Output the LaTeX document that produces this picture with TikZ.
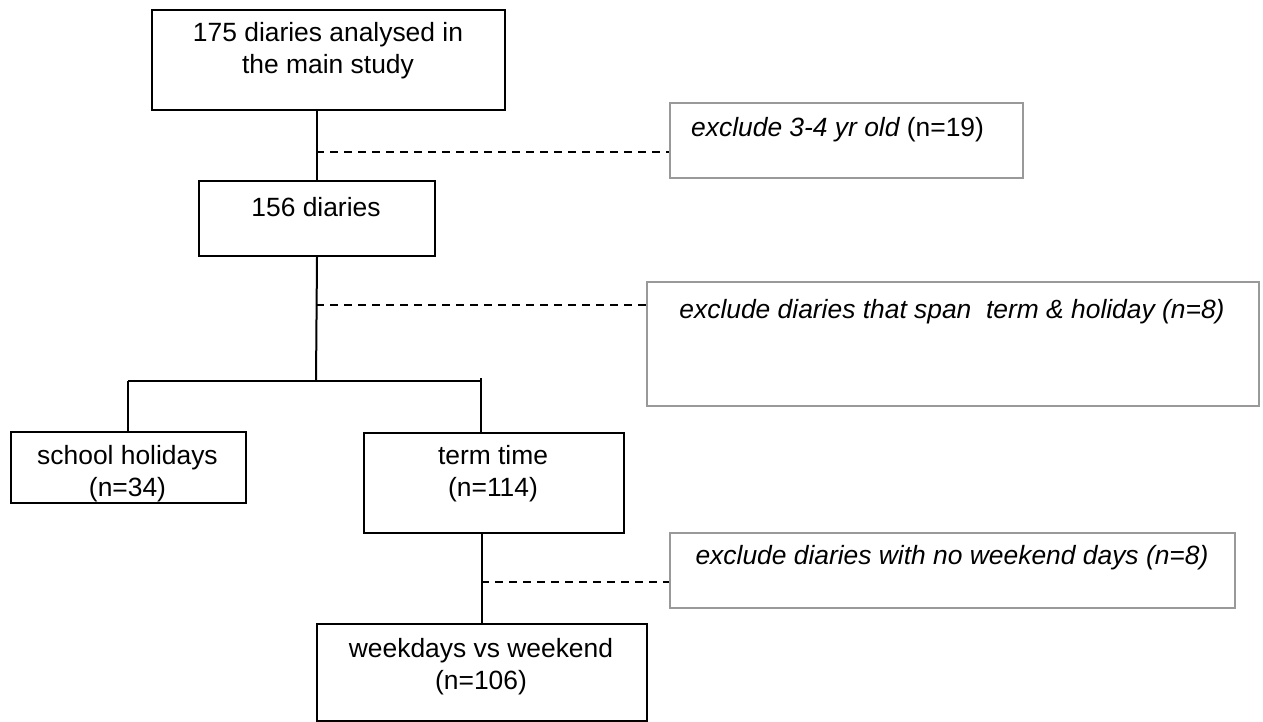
\documentclass[tikz,border=0pt]{standalone}
\usepackage{fontspec}
\setmainfont{Liberation Sans}
\begin{document}
\begin{tikzpicture}[x=1pt,y=-1pt,
  box/.style={draw=black,line width=2pt,anchor=north west,inner sep=0pt},
  gbox/.style={draw=black!40,line width=2pt,anchor=north west,inner sep=0pt},
  conn/.style={line width=2pt,black},
  dashline/.style={line width=1.6pt,black,dash pattern=on 8pt off 6pt},
  txt/.style={font=\fontsize{26.4}{32}\selectfont,align=center,inner sep=0pt}]
\useasboundingbox (0,0) rectangle (1263,722);
% boxes
\node[box,minimum width=353pt,minimum height=100pt] (b1) at (151,9) {};
\node[box,minimum width=236pt,minimum height=75pt] (b2) at (198,180) {};
\node[gbox,minimum width=353pt,minimum height=75pt] (e1) at (669,102) {};
\node[gbox,minimum width=612pt,minimum height=124pt] (e2) at (646,281) {};
\node[box,minimum width=235pt,minimum height=71pt] (sh) at (10,431) {};
\node[box,minimum width=260pt,minimum height=100pt] (tt) at (363,432) {};
\node[gbox,minimum width=565pt,minimum height=75pt] (e3) at (669,532) {};
\node[box,minimum width=330pt,minimum height=97pt] (wk) at (316,623) {};
% texts
\node[txt] (t1) at (328,51) {175 diaries analysed in\\the main study};
\node[txt] (t2) at (316,207) {156 diaries};
\node[txt,anchor=west] (te1) at (691,130) {\itshape exclude 3-4 yr old\upshape{} (n=19)};
\node[txt] (te2) at (952,312) {\itshape exclude diaries that span\ \ term \& holiday (n=8)};
\node[txt] (tsh) at (127.5,474) {school holidays\\(n=34)};
\node[txt] (ttt) at (493,474) {term time\\(n=114)};
\node[txt] (te3) at (952,558) {\itshape exclude diaries with no weekend days (n=8)};
\node[txt] (twk) at (481,667) {weekdays vs weekend\\(n=106)};
% connectors
\draw[conn] (b2.north |- b1.south) -- (b2.north);
\coordinate (br) at (316,381);
\coordinate (brL) at (128,381);
\coordinate (brR) at (481,381);
\draw[conn] (b2.south) -- (br);
\draw[conn] (brL) -- (brR);
\draw[conn] (brL) -- (brL |- sh.north);
\draw[conn] (481,378) -- (brR |- tt.north);
\draw[conn] (wk.north |- tt.south) -- (wk.north);
% dashed
\coordinate (d1) at (316,152);
\coordinate (d2) at (316,305);
\coordinate (d3) at (481,582);
\draw[dashline] (d1) -- (d1 -| e1.west);
\draw[dashline] (d2) -- (d2 -| e2.west);
\draw[dashline] (d3) -- (d3 -| e3.west);
\end{tikzpicture}
\end{document}
